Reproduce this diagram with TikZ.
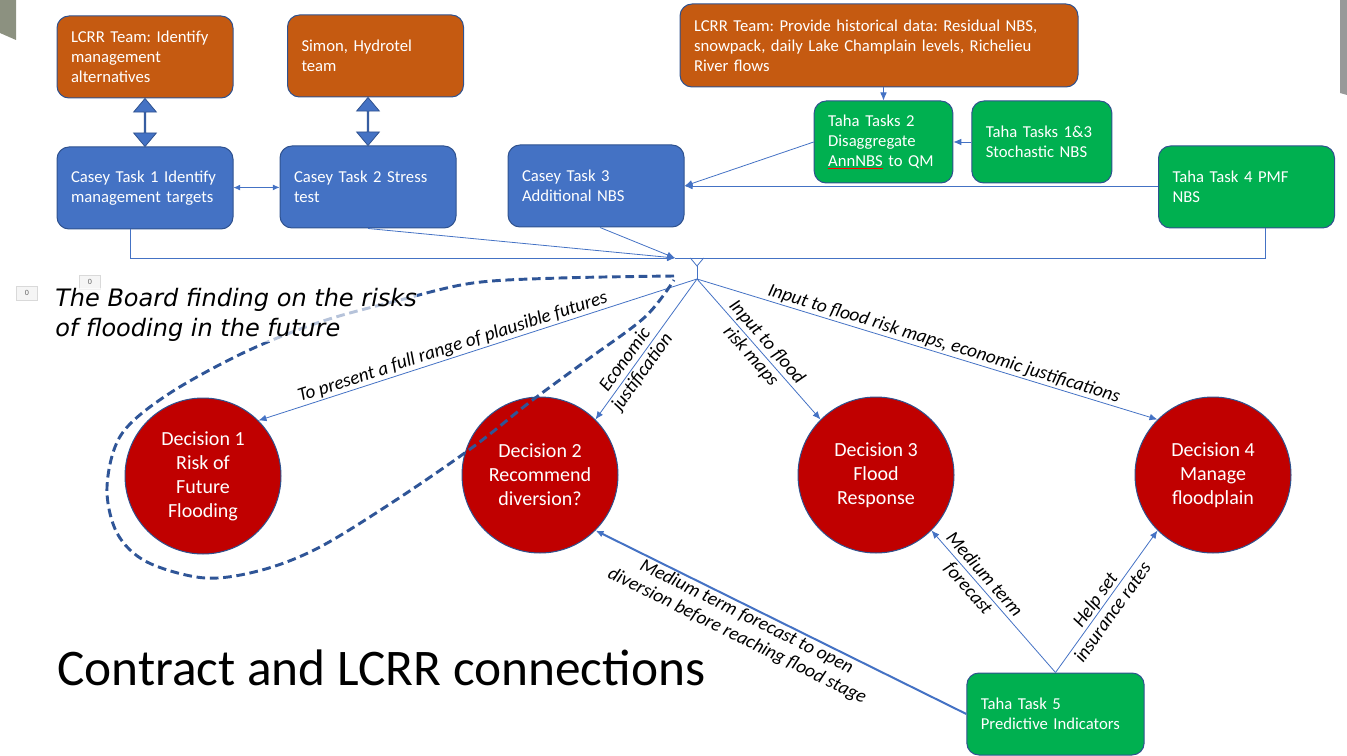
\documentclass[tikz,border=0pt]{standalone}
\usepackage{fontspec}
\setmainfont{Carlito}
\newfontfamily\boardfont{DejaVu Sans}
\usepackage{tikz}
\usetikzlibrary{shapes.arrows,arrows.meta,positioning,calc}
\definecolor{cLcrr}{HTML}{C55A11}
\definecolor{cCasey}{HTML}{4472C4}
\definecolor{cTaha}{HTML}{00B050}
\definecolor{cDecision}{HTML}{C00000}
\definecolor{cEdge}{HTML}{2F528F}
\definecolor{cLink}{HTML}{4472C4}
\definecolor{cLoop}{HTML}{2F5597}
\definecolor{cDecor}{HTML}{8C9180}
\frenchspacing
\tikzset{
  box/.style   = {rectangle, rounded corners=9pt, draw=cEdge, fill=#1, line width=0.75pt,
                  text=white, align=left, inner xsep=10.5pt, text width=111pt,
                  minimum height=61.5pt, font=\fontsize{12.5}{15}\selectfont},
  box/.default = cCasey,
  lcrr/.style  = {box=cLcrr},
  casey/.style = {box=cCasey},
  taha/.style  = {box=cTaha},
  dec/.style   = {circle, draw=cEdge, fill=cDecision, line width=0.75pt, minimum size=117pt,
                  inner sep=0pt, align=center, text=white, font=\fontsize{15}{18}\selectfont},
  fl/.style    = {-{Latex[length=6pt,width=5pt]}, draw=cLink, line width=0.6pt},
  flb/.style   = {fl, line width=1.5pt},
  lab/.style   = {font=\fontsize{14.3}{16}\selectfont\itshape, align=center, sloped, inner sep=1pt},
  duo/.style   = {double arrow, draw=cEdge, fill=cCasey, line width=0.6pt, rotate=90,
                  minimum height=36pt, minimum width=17pt, double arrow head extend=4pt,
                  double arrow tip angle=80, inner sep=0pt},
  zero/.style  = {rectangle, draw=black!15, fill=black!4, font=\fontsize{6}{6}\selectfont,
                  text=black!60, minimum width=16pt, minimum height=10.5pt, inner sep=0pt},
  boardloop/.style = {draw=cLoop, line width=2.2pt, dash pattern=on 6.5pt off 3.5pt},
}

\begin{document}
\begin{tikzpicture}[x=0.75pt, y=-0.75pt, node distance=36pt and 13.5pt]
  \useasboundingbox (0,0) rectangle (1347,756);
  % slide decoration
  \fill[cDecor] (0,0) -- (16,0) -- (16,40) -- (0,33) -- cycle;
  \fill[black!40] (1340,0) -- (1347,0) -- (1347,95) -- (1340,93) -- cycle;

  % contract tasks and LCRR
  \node[lcrr] (lcrrA) at (145,57) {LCRR Team: Identify\\management\\alternatives};
  \node[lcrr] (simon) at (375.5,56) {Simon, Hydrotel\\team};
  \node[casey, below=of lcrrA] (caseyA) {Casey Task 1 Identify\\management targets};
  \node[casey] (caseyB) at (368,187) {Casey Task 2 Stress\\test};
  \node[casey] (caseyC) at (596,186) {Casey Task 3\\Additional NBS};
  \node[lcrr, text width=277.5pt, minimum height=62.25pt] (lcrrData) at (879,45.5)
    {LCRR Team: Provide historical data: Residual NBS,\\snowpack, daily Lake Champlain levels, Richelieu\\River flows};
  \node[taha, text width=83pt] (tahaB) at (883.5,142)
    {Taha Tasks 2\\Disaggregate\\{\color{red}\underline{\textcolor{white}{AnnNBS}}} to QM};
  \node[taha, text width=84pt, right=of tahaB] (tahaA) {Taha Tasks 1\&3\\Stochastic NBS};
  \node[taha] (tahaD) at (1246.5,187) {Taha Task 4 PMF\\NBS};
  \node[taha, text width=112pt] (tahaE) at (1055.5,714) {Taha Task 5\\Predictive Indicators};

  % decisions
  \node[dec] (dec1) at (203,476) {Decision 1\\Risk of\\Future\\Flooding};
  \node[dec] (dec2) at (540,475) {Decision 2\\Recommend\\diversion?};
  \node[dec] (dec3) at (876,475) {Decision 3\\Flood\\Response};
  \node[dec] (dec4) at (1213,475) {Decision 4\\Manage\\floodplain};

  \node[zero] (zeroA) at (27,293) {0};
  \node[zero] (zeroB) at (90,282) {0};
  \node[anchor=west, inner sep=0pt, font=\fontsize{38.5}{44}\selectfont] (title) at (57,668)
    {Contract and LCRR connections};

  \node[duo] (duoA) at ($(lcrrA.south)!0.5!(caseyA.north)$) {};
  \node[duo] (duoB) at ($(simon.south -| caseyB)!0.5!(caseyB.north)$) {};

  \coordinate (hubIn) at (675,258);
  \coordinate (hubTop) at (697,258);
  \coordinate (hub) at (697,279);

  \draw[fl, {Latex[length=5pt,width=4.5pt]}-{Latex[length=5pt,width=4.5pt]}] (caseyA) -- (caseyB);
  \draw[fl] (lcrrData.south -| tahaB.north) -- (tahaB.north);
  \draw[fl] (tahaA) -- (tahaB);
  \draw[fl] (tahaB.west) -- (caseyC.east);
  \draw[fl] (tahaD.west |- caseyC.east) -- (caseyC.east);
  \draw[fl] ([xshift=-11pt]caseyA.south) |- (hubIn);
  \draw[fl] (caseyB.south) -- (hubIn);
  \draw[fl] ([xshift=3pt]caseyC.south) -- (hubIn);
  \draw[fl, -] ([xshift=14pt]tahaD.south) |- (hubIn);
  \draw[fl, -] ([xshift=-5pt]hubTop) -- ([yshift=-6pt]hubTop) -- ([xshift=5pt]hubTop);
  \draw[fl, -] ([yshift=-6pt]hubTop) -- (hub);

  \draw[fl] (hub) -- node[lab, above, pos=0.55] {To present a full range of plausible futures} (dec1.45);
  \draw[fl] (hub) -- node[lab, pos=0.62] {Economic\\justification} (dec2.45);
  \draw[fl] (hub) -- node[lab, pos=0.5] {Input to flood\\risk maps} (dec3.135);
  \draw[fl] (hub) -- node[lab, above, pos=0.53] {Input to flood risk maps, economic justifications} (dec4.135);
  \draw[fl] (tahaE.north) -- node[lab, pos=0.64] {Medium term\\forecast} (dec3.-45);
  \draw[fl] (tahaE.north) -- node[lab, pos=0.47] {Help set\\insurance rates} (dec4.-135);
  \draw[flb] (tahaE.west) -- node[lab, below, pos=0.58]
    {Medium term forecast to open\\diversion before reaching flood stage} (dec2.-45);

  \draw[boardloop] plot[smooth, tension=0.55] coordinates {(674,276) (560,278) (473,283)
    (400,300) (320,322) (243,353) (167,395) (121,435) (107,487) (117,533) (147,562)
    (205,578) (262,570) (320,547) (396,500) (473,447) (530,402) (587,360) (645,317) (674,280)};

  % text box over the loop, half see-through
  \node[anchor=west, align=left, inner sep=0pt, fill=white, fill opacity=0.65, text opacity=1,
        font=\boardfont\itshape\fontsize{18}{22.5}\selectfont]
    (board) at (55,315) {The Board finding on the risks\\of flooding in the future};
\end{tikzpicture}
\end{document}
